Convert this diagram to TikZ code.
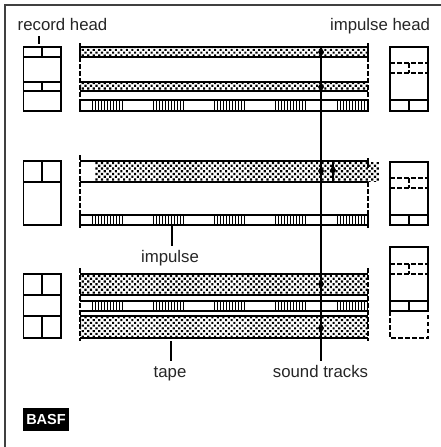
\documentclass[tikz,border=0pt]{standalone}
\usepackage{fontspec}
\setmainfont{Liberation Sans}
\usetikzlibrary{patterns.meta}
\begin{document}
\begin{tikzpicture}[x=1pt,y=-1pt,line width=1.1pt,
 lbl/.style={font=\fontsize{16.8}{18}\selectfont,text=black!85,inner sep=0pt,anchor=base},
 dotted track/.style={pattern={Dots[radius=1.5pt,distance=3.9pt,angle=45]},pattern color=black},
 dash line/.style={dash pattern=on 4.5pt off 2.5pt},
 spot/.style={fill=black,draw=none}]
\useasboundingbox (0,0) rectangle (441,447);
\draw[line width=1.4pt,black!75] (441,5)--(5,5)--(5,447);
% labels
\node[lbl] (rechead) at (62.5,30) {record head};
\node[lbl] (imphead) at (380,30) {impulse head};
\node[lbl] (implbl) at (170,262) {impulse};
\node[lbl] (tapelbl) at (170,377) {tape};
\node[lbl] (soundlbl) at (320.5,377) {sound tracks};
\node[fill=black,text=white,font=\fontsize{14.5}{16}\selectfont\bfseries,minimum width=46pt,minimum height=23pt,inner sep=0pt] (basf) at (46,419.5) {BASF};
% record heads
\draw (23.5,47) rectangle (61,111);
\draw (23.5,57)--(61,57) (42,47)--(42,57) (23.5,82)--(61,82) (23.5,91)--(61,91) (42,82)--(42,91);
\draw (23.5,161) rectangle (61,225);
\draw (23.5,182)--(61,182) (42,161)--(42,182);
\draw (23.5,274) rectangle (61,338);
\draw (23.5,295)--(61,295) (23.5,316)--(61,316) (42,274)--(42,295) (42,316)--(42,338);
% impulse heads
\draw (390,47) rectangle (428,111);
\draw (390,100)--(428,100) (409,100)--(409,111);
\draw[dash line] (390,63)--(428,63) (390,73)--(428,73) (409,63)--(409,73);
\draw (390,162) rectangle (428,225);
\draw (390,215)--(428,215) (409,215)--(409,225);
\draw[dash line] (390,178)--(428,178) (390,188)--(428,188) (409,178)--(409,188);
\draw (390,247) rectangle (428,311);
\draw (390,301)--(428,301) (409,301)--(409,311);
\draw[dash line] (390,264)--(428,264) (390,274)--(428,274) (409,264)--(409,274);
\draw[dash line] (390,311)--(390,338)--(428,338)--(428,311);
% dotted tracks
\foreach \ya/\yb in {47/57,82/91,274/295,316/338}{
 \fill[dotted track] (80,\ya) rectangle (368,\yb);
 \draw (80,\ya)--(368,\ya) (80,\yb)--(368,\yb);
}
\fill[dotted track] (95,162) rectangle (379,181);
\draw (80,161)--(368,161) (80,182)--(368,182);
% impulse tracks
\foreach \ya/\yb in {100/111,215/225,301/311}{
 \draw (80,\ya)--(368,\ya) (80,\yb)--(368,\yb);
 \foreach \xa in {92,153,214,275,337}{
  \foreach \k in {0,...,10}{
   \draw[line width=1pt] ({\xa+0.5+\k*3},\ya)--({\xa+0.5+\k*3},\yb);
  }
 }
}
% tape edges
\foreach \xe in {80,368}{
 \draw[dash line] (\xe,57)--(\xe,100);
 \draw (\xe,43)--(\xe,57) (\xe,100)--(\xe,112);
 \draw[dash line] (\xe,182)--(\xe,215);
 \draw (\xe,215)--(\xe,228);
 \draw[dash line] (\xe,268)--(\xe,341);
}
\draw[dash line] (80,155)--(80,185);
\draw (368,158)--(368,168);
% sound tracks line and connectors
\coordinate (soundtop) at (321,48);
\coordinate (soundfoot) at (321,361);
\coordinate (headtick) at (39,44);
\coordinate (headtop) at (39,36);
\coordinate (impulsetick) at (172,226);
\coordinate (impulsefoot) at (172,246);
\coordinate (tapetick) at (171,341);
\coordinate (tapefoot) at (171,361);
\draw (soundtop)--(soundfoot);
\draw (headtop)--(headtick);
\draw (impulsetick)--(impulsefoot);
\draw (tapetick)--(tapefoot);
\draw (333,162)--(333,182);
\foreach \xs/\ys in {321/52,321/87,321/171,333/170,321/284,321/328}{
 \fill[spot] (\xs,\ys-5)--(\xs+3,\ys)--(\xs,\ys+5)--(\xs-3,\ys)--cycle;
}
\end{tikzpicture}
\end{document}
